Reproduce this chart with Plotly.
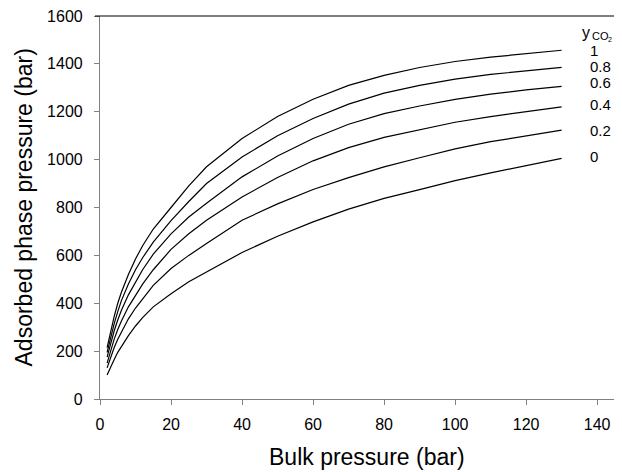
import plotly.graph_objects as go

bulk_pressure = [2, 3, 4, 5, 6, 8, 10, 12, 15, 20, 25, 30, 40, 50, 60, 70, 80, 90, 100, 110, 120, 130]

y_co2_1 = [215, 285, 345, 400, 445, 520, 585, 640, 710, 800, 890, 970,
           1088, 1180, 1252, 1310, 1352, 1385, 1410, 1428, 1444, 1457]
y_co2_08 = [195, 260, 315, 365, 410, 480, 540, 590, 655, 745, 825, 900,
            1011, 1100, 1172, 1232, 1278, 1310, 1336, 1356, 1372, 1385]
y_co2_06 = [175, 235, 285, 330, 370, 435, 490, 540, 605, 690, 760, 818,
            928, 1015, 1088, 1148, 1192, 1224, 1252, 1274, 1291, 1306]
y_co2_04 = [150, 205, 250, 290, 325, 385, 435, 480, 540, 625, 690, 747,
            844, 925, 995, 1050, 1093, 1126, 1156, 1180, 1201, 1220]
y_co2_02 = [130, 175, 215, 250, 280, 335, 380, 420, 475, 545, 600, 650,
            747, 815, 875, 925, 970, 1008, 1045, 1075, 1100, 1123]
y_co2_0 = [100, 135, 165, 195, 220, 265, 305, 340, 385, 440, 490, 530,
           612, 680, 740, 793, 838, 875, 912, 945, 976, 1005]

series = [y_co2_1, y_co2_08, y_co2_06, y_co2_04, y_co2_02, y_co2_0]
series_labels = ["1", "0.8", "0.6", "0.4", "0.2", "0"]
label_y = [1457, 1387, 1324, 1230, 1123, 1011]

x_ticks = [0, 20, 40, 60, 80, 100, 120, 140]
y_ticks = [0, 200, 400, 600, 800, 1000, 1200, 1400, 1600]

FONT = "Liberation Sans, Arial, sans-serif"

fig = go.Figure()
for ys, name in zip(series, series_labels):
    fig.add_trace(go.Scatter(x=bulk_pressure, y=ys, mode="lines", name=name,
                             line=dict(color="black", width=1.2), showlegend=False))

for name, yv in zip(series_labels, label_y):
    fig.add_annotation(x=137.5, y=yv, xref="x", yref="y", text=name, showarrow=False,
                       xanchor="left", yanchor="middle",
                       font=dict(family=FONT, size=15, color="black"))

# y_CO2 header
fig.add_annotation(x=135.2, y=1530, xref="x", yref="y", text="y", showarrow=False,
                   xanchor="left", yanchor="middle", font=dict(family=FONT, size=16, color="black"))
fig.add_annotation(x=138.0, y=1515, xref="x", yref="y", text="CO", showarrow=False,
                   xanchor="left", yanchor="middle", font=dict(family=FONT, size=11, color="black"))
fig.add_annotation(x=142.6, y=1503, xref="x", yref="y", text="2", showarrow=False,
                   xanchor="left", yanchor="middle", font=dict(family=FONT, size=7, color="black"))

# axis titles
fig.add_annotation(x=0.511, y=-0.151, xref="paper", yref="paper", text="Bulk pressure (bar)",
                   showarrow=False, xanchor="center", yanchor="middle",
                   font=dict(family=FONT, size=23, color="black"))
fig.add_annotation(x=-0.1456, y=0.5, xref="paper", yref="paper", text="Adsorbed phase pressure (bar)",
                   showarrow=False, xanchor="center", yanchor="middle", textangle=-90,
                   font=dict(family=FONT, size=23, color="black"))

# top frame line
fig.add_shape(type="line", xref="paper", yref="paper", x0=-5/522, x1=1.02, y0=1, y1=1,
              line=dict(color="black", width=1.2))

# page body adds an 8px offset, so margins are shifted by 8px
fig.update_layout(
    width=622, height=472,
    margin=dict(l=92, r=8, t=8, b=81),
    paper_bgcolor="white", plot_bgcolor="white",
    font=dict(family=FONT, color="black"),
    xaxis=dict(range=[0, 147], tickvals=x_ticks, ticks="outside", ticklen=5, tickcolor="#808080",
               showline=True, linecolor="#808080", linewidth=1.2, showgrid=False, zeroline=False,
               automargin=False, ticklabelstandoff=6, ticklabeloverflow="allow",
               tickfont=dict(size=16, family=FONT, color="black")),
    yaxis=dict(range=[0, 1600], tickvals=y_ticks, ticks="outside", ticklen=5, tickcolor="#808080",
               showline=True, linecolor="#808080", linewidth=1.2, showgrid=False, zeroline=False,
               automargin=False, ticklabelstandoff=8, ticklabeloverflow="allow",
               tickfont=dict(size=16, family=FONT, color="black")),
)

fig.write_html("out.html")
